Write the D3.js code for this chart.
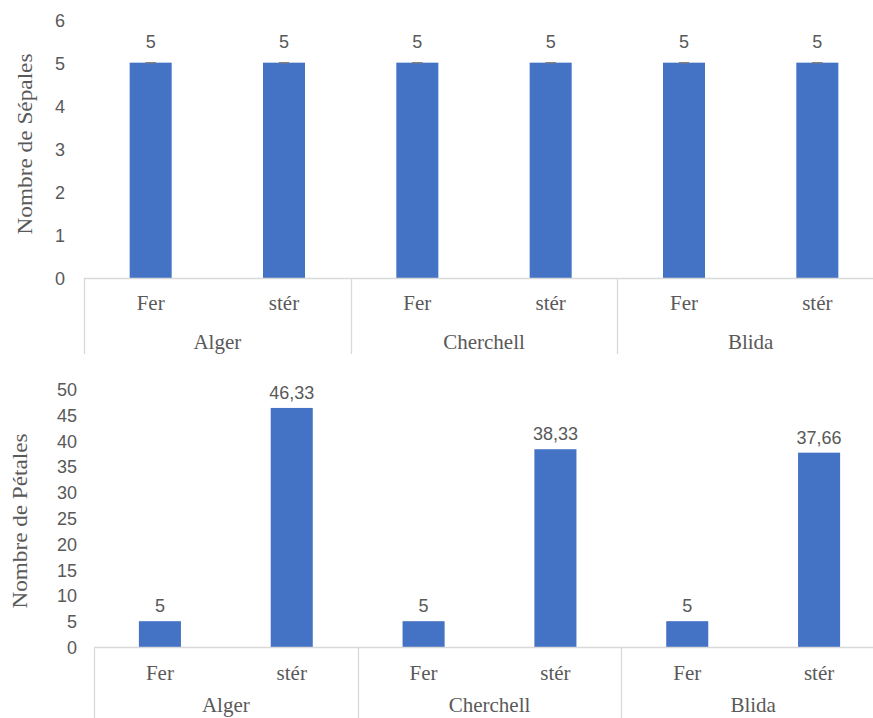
<!DOCTYPE html>
<html>
<head>
<meta charset="utf-8">
<script src="https://cdn.jsdelivr.net/npm/d3@7"></script>
<style>
  html, body { margin: 0; padding: 0; background: #fff; }
  svg { display: block; }
</style>
</head>
<body>
<svg id="chart" width="873" height="718"></svg>
<script>
// Categories: station (outer) and flower type (inner)
const groups = ["Alger", "Cherchell", "Blida"];
const types = ["Fer", "stér"];

// Mean number of sepals per station / type, with error (zero)
const sepales = [5, 5, 5, 5, 5, 5];
const sepalesErr = [0, 0, 0, 0, 0, 0];
const sepalesLabels = ["5", "5", "5", "5", "5", "5"];
const sepalesTicks = [0, 1, 2, 3, 4, 5, 6];

// Mean number of petals per station / type
const petales = [5, 46.33, 5, 38.33, 5, 37.66];
const petalesLabels = ["5", "46,33", "5", "38,33", "5", "37,66"];
const petalesTicks = [0, 5, 10, 15, 20, 25, 30, 35, 40, 45, 50];

const SERIF = "'Liberation Serif', 'Times New Roman', Times, serif";
const SANS = "'Liberation Sans', Arial, sans-serif";
const TEXT = "#595959";
const BAR = "#4472C4";
const LINE = "#d9d9d9";

const svg = d3.select("#chart").attr("font-family", SERIF);

function serif(sel) {
  return sel.attr("font-family", SERIF).attr("fill", TEXT).attr("font-size", 21);
}
function num(sel) {
  return sel.attr("font-family", SANS).attr("fill", TEXT).attr("font-size", 18);
}

function drawPanel(cfg) {
  const g = svg.append("g");
  const keys = [];
  groups.forEach(gr => types.forEach(t => keys.push(gr + "|" + t)));

  const x = d3.scaleBand().domain(keys).range([cfg.x0, cfg.x1])
    .paddingInner(cfg.pad).paddingOuter(cfg.pad / 2);
  const xg = d3.scaleBand().domain(groups).range([cfg.x0, cfg.x1]).padding(0);
  const y = d3.scaleLinear().domain([0, cfg.ticks[cfg.ticks.length - 1]])
    .range([cfg.yBase, cfg.yTop]);

  // y tick labels (no axis line, no tick marks)
  const yAxis = d3.axisLeft(y).tickValues(cfg.ticks).tickSize(0).tickPadding(0)
    .tickFormat(d3.format("d"));
  const ya = g.append("g").attr("transform", `translate(${cfg.tickX},0)`).call(yAxis);
  ya.attr("font-family", SANS).attr("font-size", 18);
  ya.select(".domain").remove();
  num(ya.selectAll("text")).attr("dy", "0.36em");

  // y title
  serif(g.append("text"))
    .attr("transform", `translate(${cfg.titleX},${cfg.titleY}) rotate(-90)`)
    .attr("text-anchor", "middle").attr("dy", "0.33em")
    .attr("font-size", 20)
    .attr("textLength", cfg.titleLen).attr("lengthAdjust", "spacingAndGlyphs")
    .text(cfg.title);

  // bars
  g.selectAll("rect.bar").data(cfg.values).join("rect")
    .attr("class", "bar")
    .attr("x", (d, i) => x(keys[i]))
    .attr("width", x.bandwidth())
    .attr("y", d => y(d))
    .attr("height", d => y(0) - y(d))
    .attr("fill", BAR);

  // error bars
  if (cfg.err) {
    cfg.values.forEach((v, i) => {
      const cx = x(keys[i]) + x.bandwidth() / 2;
      const e = cfg.err[i];
      g.append("line").attr("x1", cx).attr("x2", cx)
        .attr("y1", y(v - e)).attr("y2", y(v + e))
        .attr("stroke", "#7f7f7f").attr("stroke-width", 1);
      [v - e, v + e].forEach(val => {
        g.append("line").attr("x1", cx - 5).attr("x2", cx + 5)
          .attr("y1", y(val)).attr("y2", y(val))
          .attr("stroke", "#7f7f7f").attr("stroke-width", 1.2);
      });
    });
  }

  // value labels
  num(g.selectAll("text.val").data(cfg.values).join("text"))
    .attr("class", "val")
    .attr("x", (d, i) => x(keys[i]) + x.bandwidth() / 2)
    .attr("y", d => y(d) - cfg.labelGap)
    .attr("text-anchor", "middle")
    .text((d, i) => cfg.labels[i]);

  // category axis line
  g.append("line").attr("x1", cfg.x0).attr("x2", cfg.x1 + 20)
    .attr("y1", cfg.yBase + 0.5).attr("y2", cfg.yBase + 0.5)
    .attr("stroke", LINE).attr("stroke-width", 1.3);

  // group separators
  groups.forEach(gr => {
    const gx = Math.round(xg(gr)) + 0.5;
    g.append("line").attr("x1", gx).attr("x2", gx)
      .attr("y1", cfg.yBase).attr("y2", cfg.sepEnd)
      .attr("stroke", LINE).attr("stroke-width", 1.3);
  });

  // inner labels
  keys.forEach(k => {
    serif(g.append("text"))
      .attr("x", x(k) + x.bandwidth() / 2)
      .attr("y", cfg.yBase + cfg.innerDy)
      .attr("text-anchor", "middle")
      .text(k.split("|")[1]);
  });

  // group labels
  groups.forEach(gr => {
    serif(g.append("text"))
      .attr("x", xg(gr) + xg.bandwidth() / 2)
      .attr("y", cfg.yBase + cfg.groupDy)
      .attr("text-anchor", "middle")
      .text(gr);
  });
}

drawPanel({
  values: sepales, err: sepalesErr, labels: sepalesLabels, ticks: sepalesTicks,
  title: "Nombre de Sépales", titleX: 25, titleY: 144, titleLen: 181,
  x0: 84, x1: 884, pad: 0.685,
  yBase: 278, yTop: 19.6, tickX: 65,
  labelGap: 15, sepEnd: 354, innerDy: 32, groupDy: 71
});

drawPanel({
  values: petales, labels: petalesLabels, ticks: petalesTicks,
  title: "Nombre de Pétales", titleX: 20, titleY: 521, titleLen: 175,
  x0: 94, x1: 885, pad: 0.681,
  yBase: 647, yTop: 389, tickX: 77,
  labelGap: 9, sepEnd: 718, innerDy: 33, groupDy: 65
});
</script>
</body>
</html>
